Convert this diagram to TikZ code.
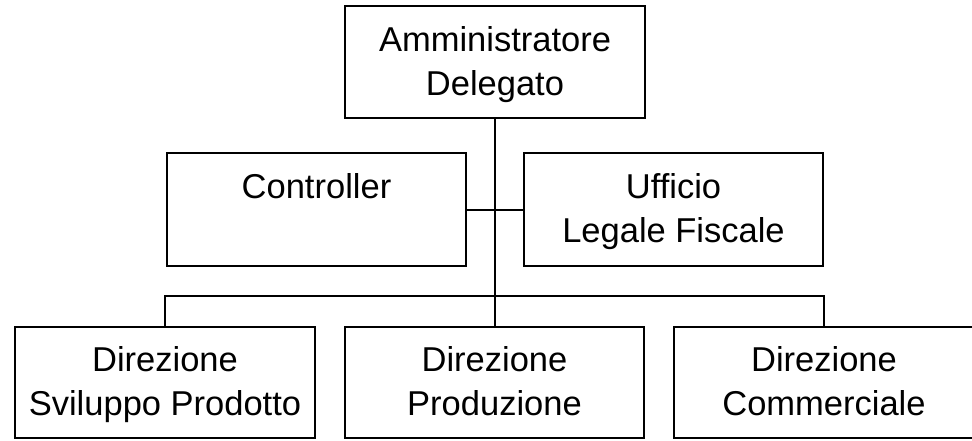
\documentclass[tikz,border=0pt]{standalone}
\usepackage{fontspec}
\setmainfont{Liberation Sans}
% invisible rule giving every text line the same height and depth
\newcommand\linestrut{\rule[-8pt]{0pt}{38pt}}
\begin{document}
\begin{tikzpicture}[x=1pt,y=-1pt,
  orgbox/.style={draw=black, line width=2pt, rectangle, inner sep=0pt,
    align=center, font=\fontsize{34.5}{44}\selectfont},
  link/.style={draw=black, line width=2pt}]
  \useasboundingbox (0,0) rectangle (972,440);

  % top management
  \node[orgbox, minimum width=300pt, minimum height=112pt] (ad) at (495,62)
    {Amministratore\linestrut\\Delegato\linestrut};

  % staff offices
  \node[orgbox, minimum width=299pt, minimum height=113pt] (ctrl) at (316.5,209.5)
    {Controller\linestrut\\\linestrut};
  \node[orgbox, minimum width=299pt, minimum height=113pt] (ulf) at (673.5,209.5)
    {Ufficio\linestrut\\Legale Fiscale\linestrut};

  % line departments
  \node[orgbox, minimum width=300pt, minimum height=111pt] (dsp) at (165,382.5)
    {Direzione\linestrut\\Sviluppo Prodotto\linestrut};
  \node[orgbox, minimum width=299pt, minimum height=111pt] (dpr) at (494.5,382.5)
    {Direzione\linestrut\\Produzione\linestrut};
  \node[orgbox, minimum width=300pt, minimum height=111pt] (dco) at (824,382.5)
    {Direzione\linestrut\\Commerciale\linestrut};

  % connectors
  \coordinate (bus) at (495,296);
  \draw[link] (ad.south) -- (bus);
  \draw[link] (ctrl.east) -- (ulf.west);
  \draw[link] (dsp.north) |- (bus);
  \draw[link] (dco.north) |- (bus);
  \draw[link] (dpr.north) -- (dpr.north |- bus);
\end{tikzpicture}
\end{document}
